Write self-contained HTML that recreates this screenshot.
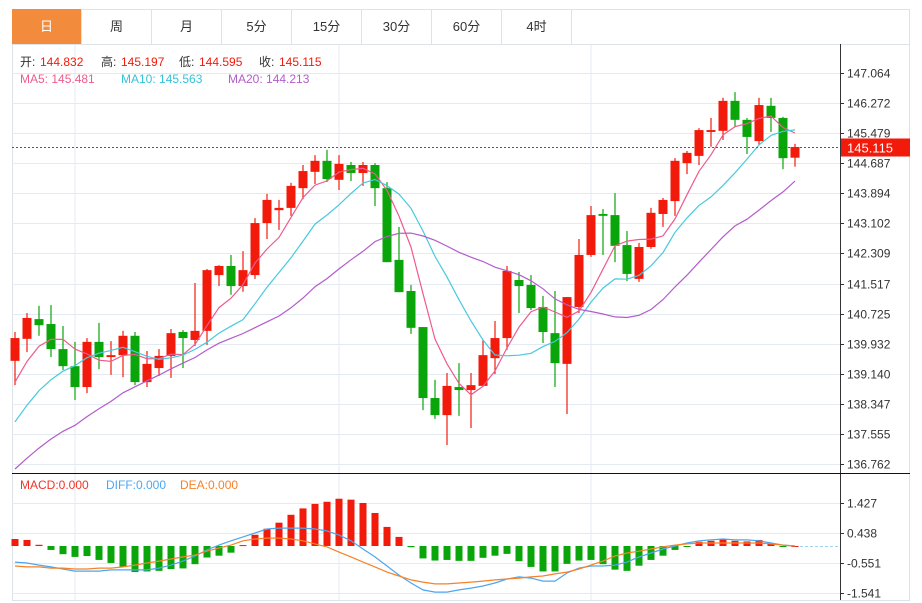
<!DOCTYPE html>
<html><head><meta charset="utf-8"><style>
body{margin:0;background:#fff;width:922px;height:603px;overflow:hidden;font-family:"Liberation Sans","Noto Sans CJK SC",sans-serif}
.tab{position:absolute;top:9px;height:35px;width:70px;border-right:1px solid #dde3ea;font-size:13px;color:#333;text-align:center;line-height:35px;box-sizing:border-box}
</style></head><body>
<div style="position:absolute;left:12px;top:9px;width:898px;height:35px;border-top:1px solid #dde3ea;border-left:1px solid #dde3ea;border-right:1px solid #dde3ea;box-sizing:border-box"></div>
<div class="tab" style="left:12px;background:#f28c3c;color:#fff">日</div>
<div class="tab" style="left:82px">周</div>
<div class="tab" style="left:152px">月</div>
<div class="tab" style="left:222px">5分</div>
<div class="tab" style="left:292px">15分</div>
<div class="tab" style="left:362px">30分</div>
<div class="tab" style="left:432px">60分</div>
<div class="tab" style="left:502px">4时</div>
<svg id="c" width="922" height="603" style="position:absolute;left:0;top:0" font-family="Liberation Sans, Noto Sans CJK SC, sans-serif"></svg>
<script>
const opens=[139.48,140.06,140.58,140.45,139.79,139.34,138.79,139.98,139.58,139.63,140.14,138.92,139.29,139.61,140.24,140.03,140.27,141.74,141.98,141.45,141.74,143.11,143.45,143.51,144.03,144.46,144.75,144.25,144.64,144.43,144.64,144.03,142.14,141.32,140.37,138.50,138.05,138.79,138.71,138.82,139.55,140.08,141.61,141.48,140.90,140.21,139.40,140.90,142.27,143.35,143.32,142.53,141.64,142.48,143.35,143.69,144.69,144.88,145.51,145.54,146.33,145.83,145.27,146.20,145.88,144.832];
const closes=[140.08,140.61,140.42,139.79,139.34,138.79,139.98,139.58,139.63,140.14,138.92,139.40,139.61,140.21,140.08,140.27,141.87,141.98,141.45,141.87,143.11,143.72,143.51,144.09,144.48,144.75,144.27,144.67,144.43,144.64,144.03,142.08,141.29,140.35,138.50,138.05,138.82,138.71,138.84,139.63,140.08,141.85,141.45,140.87,140.24,139.42,141.16,142.27,143.32,143.30,142.51,141.77,142.48,143.38,143.72,144.75,144.96,145.56,145.56,146.33,145.83,145.38,146.22,145.88,144.82,145.115];
const highs=[140.24,140.74,140.93,140.95,140.40,139.98,140.08,140.48,140.00,140.27,140.24,139.74,139.79,140.32,140.29,141.53,141.90,142.00,142.27,142.37,143.24,143.88,143.72,144.17,144.64,144.90,145.04,144.90,144.72,144.72,144.69,144.19,143.01,141.48,140.37,138.98,139.16,139.42,139.16,140.03,140.53,141.98,141.82,141.74,141.19,141.32,141.16,142.69,143.56,143.48,143.90,142.90,142.59,143.51,143.77,144.82,145.01,145.61,145.88,146.41,146.56,145.88,146.41,146.41,145.91,145.197];
const lows=[138.84,139.71,140.14,139.58,139.24,138.45,138.63,139.26,139.11,139.05,138.84,138.79,139.08,139.03,139.29,139.87,139.90,141.45,141.22,141.30,141.64,142.69,142.93,143.30,143.74,144.14,144.19,143.98,144.22,144.09,143.56,142.08,141.29,140.19,138.18,137.95,137.26,138.03,137.71,138.82,139.13,139.77,140.74,140.82,139.95,138.79,138.08,140.74,142.22,142.27,142.08,141.58,141.56,142.43,143.01,143.30,144.40,144.64,145.12,145.30,145.64,144.93,145.17,145.51,144.53,144.595];
const priorCloses=[134.9,135.1,135.0,135.3,135.6,135.4,135.5,135.7,135.6,135.8,136.2,136.6,136.9,137.1,137.3,137.9,138.4,138.9,139.32];
const macdHist=[0.23,0.2,0.04,-0.13,-0.27,-0.36,-0.33,-0.46,-0.56,-0.69,-0.86,-0.84,-0.82,-0.76,-0.74,-0.6,-0.38,-0.32,-0.22,0.03,0.37,0.57,0.77,1.03,1.24,1.39,1.46,1.56,1.53,1.42,1.09,0.63,0.3,-0.04,-0.41,-0.48,-0.46,-0.49,-0.49,-0.39,-0.32,-0.26,-0.5,-0.69,-0.84,-0.84,-0.59,-0.48,-0.46,-0.6,-0.78,-0.82,-0.65,-0.46,-0.32,-0.13,-0.02,0.14,0.17,0.22,0.17,0.15,0.2,0.08,-0.03,0];
const diffLine=[-0.53,-0.56,-0.63,-0.69,-0.76,-0.83,-0.83,-0.83,-0.79,-0.79,-0.79,-0.79,-0.73,-0.63,-0.50,-0.33,-0.13,0.03,0.17,0.30,0.43,0.56,0.59,0.59,0.59,0.56,0.50,0.36,0.17,-0.10,-0.36,-0.66,-0.96,-1.22,-1.45,-1.52,-1.52,-1.45,-1.39,-1.32,-1.22,-1.09,-1.02,-1.06,-1.16,-1.16,-0.89,-0.73,-0.66,-0.66,-0.63,-0.53,-0.36,-0.23,-0.10,0,0.10,0.17,0.20,0.23,0.20,0.20,0.17,0.10,0.03,0];
const deaLine=[-0.66,-0.69,-0.69,-0.73,-0.73,-0.76,-0.76,-0.73,-0.73,-0.69,-0.63,-0.56,-0.50,-0.43,-0.36,-0.30,-0.17,-0.07,0.03,0.17,0.23,0.26,0.26,0.23,0.17,0.07,-0.03,-0.20,-0.36,-0.53,-0.69,-0.86,-0.99,-1.12,-1.19,-1.25,-1.25,-1.22,-1.19,-1.16,-1.12,-1.09,-1.06,-1.02,-0.99,-0.92,-0.86,-0.76,-0.63,-0.50,-0.33,-0.23,-0.17,-0.10,-0.03,0.03,0.07,0.10,0.10,0.10,0.10,0.10,0.10,0.07,0.03,0];
const priceTicks=[147.064,146.272,145.479,144.687,143.894,143.102,142.309,141.517,140.725,139.932,139.140,138.347,137.555,136.762];
const macdTicks=[1.427,0.438,-0.551,-1.541];

const svg=document.getElementById('c');const NS='http://www.w3.org/2000/svg';
function el(t,a,p){const e=document.createElementNS(NS,t);for(const k in a)e.setAttribute(k,a[k]);(p||svg).appendChild(e);return e;}
const X0=15,DX=12;
const xAt=i=>X0+i*DX;
const yP=p=>73+(147.064-p)/(147.064-136.762)*391;
const yM=v=>546-v*30.3;
const UP='#f21a0a',DN='#0aa50a';

let r=el('rect',{x:12.5,y:44.5,width:897,height:556,fill:'none',stroke:'#dde3ea'});

[75,339,591].forEach(x=>{const l=el('line',{x1:x,y1:45,x2:x,y2:600,stroke:'#e3eaf1'});});
priceTicks.forEach(t=>{const y=Math.round(yP(t))+0.5;
 const g=el('line',{x1:12,y1:y,x2:840,y2:y,stroke:'#e3eaf1'});
 el('line',{x1:840,y1:y,x2:844,y2:y,stroke:'#333'});
 const tx=el('text',{x:847,y:y+4,'font-size':12,fill:'#333'});tx.textContent=t.toFixed(3);});
macdTicks.forEach(t=>{const y=Math.round(yM(t))+0.5;
 const g=el('line',{x1:12,y1:y,x2:840,y2:y,stroke:'#e3eaf1'});
 el('line',{x1:840,y1:y,x2:844,y2:y,stroke:'#333'});
 const tx=el('text',{x:847,y:y+4,'font-size':12,fill:'#333'});tx.textContent=t.toFixed(3);});
el('line',{x1:840.5,y1:44,x2:840.5,y2:600,stroke:'#333'});
el('line',{x1:12,y1:473.5,x2:910,y2:473.5,stroke:'#111'});

closes.forEach((c,i)=>{const o=opens[i],x=xAt(i),col=c>=o?UP:DN;
 const w=el('line',{x1:x,y1:yP(highs[i]),x2:x,y2:yP(lows[i]),stroke:col,'stroke-width':1.2});
 
 const t=yP(Math.max(o,c)),b=yP(Math.min(o,c));
 const bd=el('rect',{x:x-4.5,y:t,width:9,height:Math.max(1.5,b-t),fill:col});
 });

const all=priorCloses.concat(closes);
function ma(n){return closes.map((_,i)=>{const j=i+priorCloses.length;let s=0;for(let k=j-n+1;k<=j;k++)s+=all[k];return s/n;});}
[[5,'#ee5b8c'],[10,'#48c9de'],[20,'#b35ccb']].forEach(([n,col])=>{
 const pts=ma(n).map((v,i)=>xAt(i)+','+yP(v).toFixed(1)).join(' ');
 const pl=el('polyline',{points:pts,fill:'none',stroke:col,'stroke-width':1.2});
 });

const lc=closes[closes.length-1],ly=Math.round(yP(lc))+0.5;
let dl=el('line',{x1:12,y1:ly,x2:840,y2:ly,stroke:'#f21a0a','stroke-dasharray':'2,2'});

let lb=el('rect',{x:841,y:ly-9,width:69,height:18,fill:'#f21a0a'});

let lt=el('text',{x:847,y:ly+5,'font-size':13,fill:'#fff'});lt.textContent=lc.toFixed(3);


el('line',{x1:795,y1:546.5,x2:840,y2:546.5,stroke:'#9fd3f0','stroke-dasharray':'3,2'});
macdHist.forEach((v,i)=>{const x=xAt(i),y0=yM(0),y1=yM(v);
 const b=el('rect',{x:x-3.5,y:Math.min(y0,y1),width:7,height:Math.max(1,Math.abs(y1-y0)),fill:v>=0?UP:DN});
 });
[[diffLine,'#4ea6ee','diff-line'],[deaLine,'#f5822a','dea-line']].forEach(([arr,col,nm])=>{
 const pl=el('polyline',{points:arr.map((v,i)=>xAt(i)+','+yM(v).toFixed(1)).join(' '),fill:'none',stroke:col,'stroke-width':1.2});
 });

function txt(x,y,s,col,nm,size){const t=el('text',{x:x,y:y,'font-size':size||12,fill:col});t.textContent=s;return t;}
txt(20,66,'开:','#333','open-label');txt(40,66,'144.832','#f21a0a','open-value');
txt(101,66,'高:','#333','high-label');txt(121,66,'145.197','#f21a0a','high-value');
txt(179,66,'低:','#333','low-label');txt(199,66,'144.595','#f21a0a','low-value');
txt(259,66,'收:','#333','close-label');txt(279,66,'145.115','#f21a0a','close-value');
txt(20,83,'MA5: 145.481','#ee5b8c','ma5-legend');
txt(121,83,'MA10: 145.563','#36c2d8','ma10-legend');
txt(228,83,'MA20: 144.213','#b35ccb','ma20-legend');
txt(20,489,'MACD:0.000','#f2352a','macd-legend');
txt(106,489,'DIFF:0.000','#4ea6ee','diff-legend');
txt(180,489,'DEA:0.000','#f5822a','dea-legend');
</script>
</body></html>
